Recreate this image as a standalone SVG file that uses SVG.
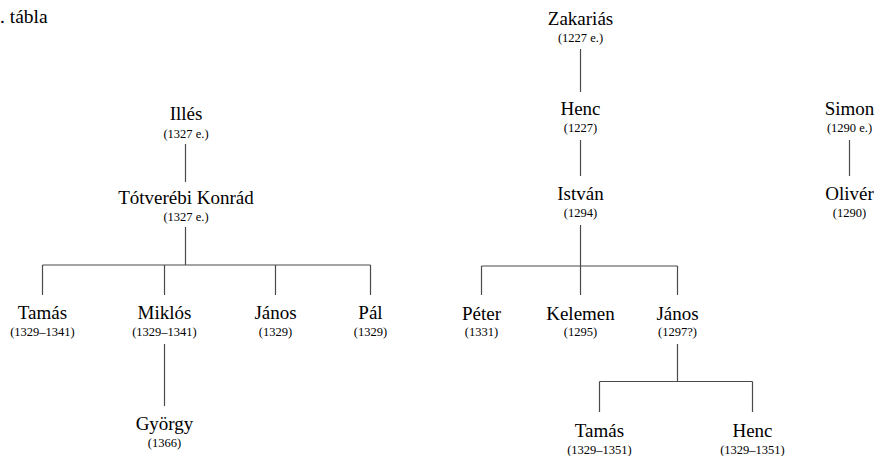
<svg xmlns="http://www.w3.org/2000/svg" width="876" height="456" viewBox="0 0 876 456" font-family="'Liberation Serif', 'Times New Roman', serif">
<style>
text{font-family:'Liberation Serif','Times New Roman',serif;fill:#000;text-anchor:middle}
.n{font-size:19px;font-family:'Liberation Serif',serif}
.d{font-size:12.5px;font-family:'Liberation Serif',serif}
.t{font-size:19.5px;text-anchor:start;font-family:'Liberation Serif',serif}
.c line{stroke:#4a4a4a;stroke-width:1.2;fill:none}
</style>
<rect width="876" height="456" fill="#fff"/>
<text class="t" x="0" y="23">. tábla</text>
<g class="c" id="connectors">
<line x1="185.5" y1="144" x2="185.5" y2="182"/>
<line x1="185.5" y1="227" x2="185.5" y2="265"/>
<line x1="42.5" y1="265" x2="370.5" y2="265"/>
<line x1="42.5" y1="265" x2="42.5" y2="295"/>
<line x1="164.5" y1="265" x2="164.5" y2="295"/>
<line x1="275.5" y1="265" x2="275.5" y2="295"/>
<line x1="370.5" y1="265" x2="370.5" y2="295"/>
<line x1="164.5" y1="344" x2="164.5" y2="406"/>
<line x1="580.5" y1="49" x2="580.5" y2="92"/>
<line x1="580.5" y1="140" x2="580.5" y2="176"/>
<line x1="580.5" y1="225" x2="580.5" y2="266"/>
<line x1="481.5" y1="266" x2="677.5" y2="266"/>
<line x1="481.5" y1="266" x2="481.5" y2="295"/>
<line x1="580.5" y1="266" x2="580.5" y2="295"/>
<line x1="677.5" y1="266" x2="677.5" y2="295"/>
<line x1="677.5" y1="344" x2="677.5" y2="381.5"/>
<line x1="599.5" y1="381.5" x2="752.5" y2="381.5"/>
<line x1="599.5" y1="381.5" x2="599.5" y2="412"/>
<line x1="752.5" y1="381.5" x2="752.5" y2="412"/>
<line x1="849.5" y1="140" x2="849.5" y2="176"/>
</g>
<g id="illes"><text class="n" x="186" y="120">Illés</text><text class="d" x="186" y="137.5">(1327 e.)</text></g>
<g id="konrad"><text class="n" x="186" y="204">Tótverébi Konrád</text><text class="d" x="186" y="221">(1327 e.)</text></g>
<g id="tamas1"><text class="n" x="42.5" y="318.5">Tamás</text><text class="d" x="42.5" y="336">(1329–1341)</text></g>
<g id="miklos"><text class="n" x="164.5" y="318.5">Miklós</text><text class="d" x="164.5" y="336">(1329–1341)</text></g>
<g id="janos1"><text class="n" x="275.5" y="318.5">János</text><text class="d" x="275.5" y="336">(1329)</text></g>
<g id="pal"><text class="n" x="370.5" y="318.5">Pál</text><text class="d" x="370.5" y="336">(1329)</text></g>
<g id="gyorgy"><text class="n" x="164.5" y="430">György</text><text class="d" x="164.5" y="446.5">(1366)</text></g>
<g id="zakarias"><text class="n" x="580.5" y="25">Zakariás</text><text class="d" x="580.5" y="41.5">(1227 e.)</text></g>
<g id="henc1"><text class="n" x="580.5" y="115">Henc</text><text class="d" x="580.5" y="131.5">(1227)</text></g>
<g id="istvan"><text class="n" x="580.5" y="200">István</text><text class="d" x="580.5" y="217">(1294)</text></g>
<g id="peter"><text class="n" x="481.5" y="319.5">Péter</text><text class="d" x="481.5" y="336">(1331)</text></g>
<g id="kelemen"><text class="n" x="580.5" y="319.5">Kelemen</text><text class="d" x="580.5" y="336">(1295)</text></g>
<g id="janos2"><text class="n" x="677.5" y="319.5">János</text><text class="d" x="677.5" y="336">(1297?)</text></g>
<g id="tamas2"><text class="n" x="599.5" y="436.5">Tamás</text><text class="d" x="599.5" y="454">(1329–1351)</text></g>
<g id="henc2"><text class="n" x="752.5" y="436.5">Henc</text><text class="d" x="752.5" y="454">(1329–1351)</text></g>
<g id="simon"><text class="n" x="849.5" y="115">Simon</text><text class="d" x="849.5" y="131.5">(1290 e.)</text></g>
<g id="oliver"><text class="n" x="849.5" y="200">Olivér</text><text class="d" x="849.5" y="217">(1290)</text></g>
</svg>
